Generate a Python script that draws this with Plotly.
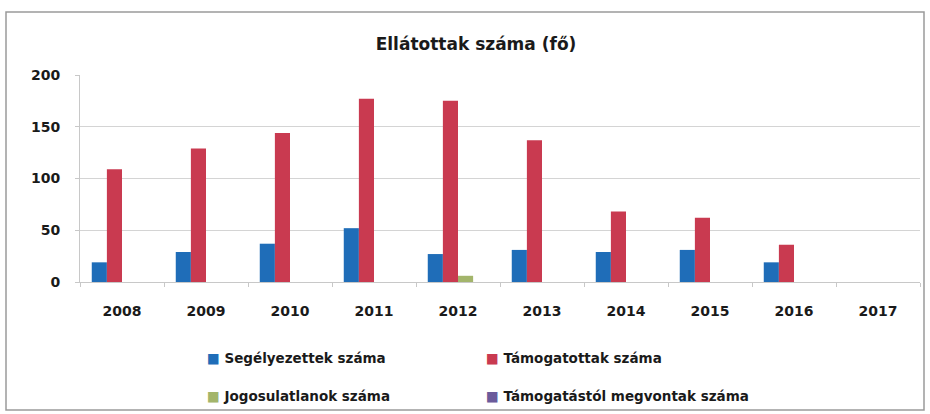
import plotly.graph_objects as go

years = ["2008", "2009", "2010", "2011", "2012", "2013", "2014", "2015", "2016", "2017"]
segelyezettek = [19, 29, 37, 52, 27, 31, 29, 31, 19, 0]
tamogatottak = [109, 129, 144, 177, 175, 137, 68, 62, 36, 0]
jogosulatlanok = [0, 0, 0, 0, 6, 0, 0, 0, 0, 0]
megvontak = [0, 0, 0, 0, 0, 0, 0, 0, 0, 0]

series_names = ["Segélyezettek száma", "Támogatottak száma",
                "Jogosulatlanok száma", "Támogatástól megvontak száma"]
series_values = [segelyezettek, tamogatottak, jogosulatlanok, megvontak]
colors = ["#1f6db8", "#c93a50", "#a3b56b", "#6b5b9b"]

FONT = "DejaVu Sans"
W, H = 930, 414
L, R, T, B = 80, 10, 75, 132
PW, PH = W - L - R, H - T - B


def px_x(x):
    return (x - L) / PW


def px_y(y):
    return (H - B - y) / PH


fig = go.Figure()
for name, vals, col in zip(series_names, series_values, colors):
    fig.add_trace(go.Bar(x=years, y=vals, name=name, marker_color=col,
                         marker_line_width=0, showlegend=False))

# legend drawn as text annotations (2 x 2 grid)
legend_pos = [(205, 358), (484, 358), (205, 396), (484, 396)]
annotations = []
for name, col, (lx, ly) in zip(series_names, colors, legend_pos):
    annotations.append(dict(
        xref="paper", yref="paper", x=px_x(lx), y=px_y(ly),
        xanchor="left", yanchor="middle", showarrow=False,
        text=f"<span style='color:{col}'>■</span> {name}",
        font=dict(family=FONT, size=13.5, color="#1a1a1a", weight="bold")))

fig.update_layout(
    width=W, height=H,
    margin=dict(l=L, r=R, t=T, b=B, autoexpand=False),
    paper_bgcolor="white", plot_bgcolor="white",
    barmode="group", bargap=0.28, bargroupgap=0,
    font=dict(family=FONT, size=14, color="#222222"),
    showlegend=False,
    title=dict(text="<b>Ellátottak száma (fő)</b>", xref="container",
               x=476 / W, xanchor="center",
               yref="container", y=1 - 44 / H, yanchor="middle",
               font=dict(family=FONT, size=17, color="#1a1a1a")),
    xaxis=dict(showgrid=False, showline=True, linecolor="#c8c8c8", linewidth=1,
               ticks="outside", tickson="boundaries", ticklen=4, tickcolor="#c8c8c8",
               ticklabelstandoff=16,
               tickfont=dict(family=FONT, size=14, color="#1a1a1a", weight="bold")),
    yaxis=dict(range=[0, 200], dtick=50, showgrid=True, gridcolor="#d4d4d4",
               showline=True, linecolor="#c8c8c8", linewidth=1,
               ticks="outside", ticklen=4, tickcolor="#c8c8c8", zeroline=False,
               ticklabelstandoff=12,
               tickfont=dict(family=FONT, size=14, color="#1a1a1a", weight="bold")),
    annotations=annotations,
    shapes=[dict(type="rect", xref="paper", yref="paper",
                 x0=px_x(6), x1=px_x(924), y0=px_y(410), y1=px_y(12),
                 line=dict(color="#9a9a9a", width=1.5), fillcolor="rgba(0,0,0,0)",
                 layer="below")],
)

fig.write_html("out.html",
               config={"displayModeBar": False},
               post_script="document.body.style.margin='0';document.body.style.padding='0';")
